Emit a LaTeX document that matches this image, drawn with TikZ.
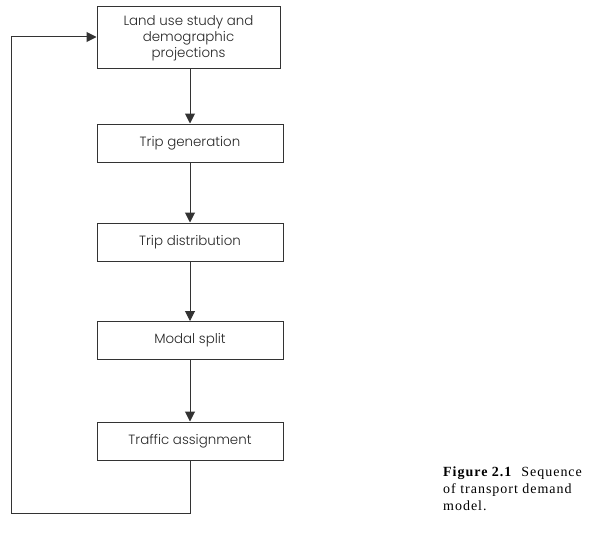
\documentclass[tikz,border=0pt]{standalone}
\usepackage{fontspec}
\setmainfont{Poppins Light}
\newfontfamily\capfont[LetterSpace=7]{Liberation Serif}
\usetikzlibrary{arrows.meta}
\begin{document}
\begin{tikzpicture}[x=1pt,y=-1pt,
  stagebox/.style={draw=black!80,line width=1pt,minimum height=38pt,inner sep=0pt,align=center,font=\fontsize{13.4}{16}\selectfont,text=black!85},
  link/.style={draw=black!80,line width=1pt,-{Triangle[width=10pt,length=10pt]}}]
\useasboundingbox (0,0) rectangle (593,532);
\node[stagebox,minimum width=183pt,minimum height=62pt] (b1) at (188.5,38) {Land use study and\\demographic\\projections};
\node[stagebox,minimum width=186pt] (b2) at (190,143) {Trip generation};
\node[stagebox,minimum width=186pt] (b3) at (190,242) {Trip distribution};
\node[stagebox,minimum width=186pt] (b4) at (190,340.5) {Modal split};
\node[stagebox,minimum width=186pt] (b5) at (190,441) {Traffic assignment};
\draw[link] (b1.south -| b2.north) -- (b2.north);
\draw[link] (b2) -- (b3);
\draw[link] (b3) -- (b4);
\draw[link] (b4) -- (b5);
\coordinate (c1) at (190,513);
\coordinate (c2) at (11,513);
\coordinate (c3) at (11,37);
\draw[link] (b5.south) -- (c1) -- (c2) -- (c3) -- (c3 -| b1.west);
\node[anchor=north west,align=left,inner sep=0pt,font=\capfont\fontsize{14}{17}\selectfont] (cap) at (443,467) {\textbf{Figure 2.1}\ \ Sequence\\of transport demand\\model.};
\end{tikzpicture}
\end{document}
